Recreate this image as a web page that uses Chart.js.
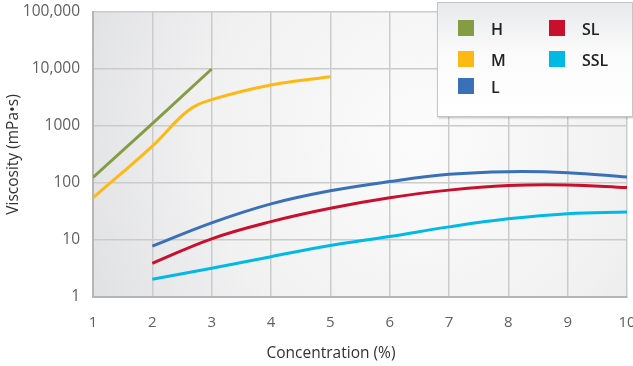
<!DOCTYPE html>
<html lang="en">
<head>
    <meta charset="UTF-8">
    <title>Viscosity vs Concentration</title>
    <script src="https://cdn.jsdelivr.net/npm/chart.js"></script>
    <style>
        body { margin: 0; background: #fff; font-family: "Open Sans", sans-serif; }
        #wrap { position: relative; width: 633px; height: 366px; }
        #xTitle { position: absolute; left: 0; width: 662px; top: 341px; text-align: center;
                  font-size: 15.5px; color: #333; }
        #legend { position: absolute; left: 437px; top: 2px; width: 194px; height: 113px;
                  border: 1px solid #c6c6c6; box-shadow: 1px 1px 2px rgba(0,0,0,0.25);
                  background: linear-gradient(#e8e9eb, #fbfbfb 45%, #ffffff); }
        .item { position: absolute; font-size: 16px; font-weight: 600; color: #222; line-height: 16px; }
        .item span { position: absolute; width: 16px; height: 16px; left: 0; top: 0; }
        .item b { position: absolute; left: 33px; top: 1px; font-weight: 600; }
    </style>
</head>
<body>
<div id="wrap">
    <canvas id="chart"></canvas>
    <div id="xTitle">Concentration (%)</div>
    <div id="legend"></div>
</div>

<script>
    // series data (concentration %, viscosity mPa·s)
    const hX = [1, 2, 3];
    const hY = [125, 1100, 10000];

    const mX = [1, 2, 2.6, 3, 4, 5];
    const mY = [55, 445, 1850, 2900, 5250, 7300];

    const lX = [2, 3, 4, 5, 6, 7, 8, 9, 10];
    const lY = [7.8, 20, 43, 73, 106, 142, 158, 152, 127];

    const slX = [2, 3, 4, 5, 6, 7, 8, 9, 10];
    const slY = [3.9, 10.5, 21, 36, 55, 75, 90, 92, 83];

    const sslX = [2, 3, 4, 5, 6, 7, 8, 9, 10];
    const sslY = [2.05, 3.2, 5.1, 8, 11.5, 17, 23.5, 29, 31];

    const seriesNames = ['H', 'M', 'L', 'SL', 'SSL'];
    const seriesColors = ['#849c43', '#fdb913', '#3a70b7', '#c8102e', '#00b9e4'];

    const yTickValues = [1, 10, 100, 1000, 10000, 100000];
    const yTickLabels = ['1', '10', '100', '1000', '10,000', '100,000'];

    const xs = [hX, mX, lX, slX, sslX];
    const ys = [hY, mY, lY, slY, sslY];

    function toPoints(x, y) {
        return x.map((v, i) => ({ x: v, y: y[i] }));
    }

    const datasets = seriesNames.map((name, i) => ({
        label: name,
        data: toPoints(xs[i], ys[i]),
        borderColor: seriesColors[i],
        backgroundColor: seriesColors[i],
        borderWidth: 3,
        pointRadius: 0,
        fill: false,
        tension: i === 0 ? 0 : 0.4
    }));

    // shaded plot background
    const plotBackground = {
        id: 'plotBackground',
        beforeDraw(chart) {
            const { ctx, chartArea: a } = chart;
            const g = ctx.createRadialGradient(420, 140, 10, 420, 140, 470);
            g.addColorStop(0, '#fbfbfb');
            g.addColorStop(0.45, '#f1f1f2');
            g.addColorStop(1, '#d4d5d8');
            ctx.save();
            ctx.fillStyle = g;
            ctx.fillRect(a.left, a.top, a.right - a.left, a.bottom - a.top);
            ctx.restore();
        }
    };

    const ctx = document.getElementById('chart').getContext('2d');
    new Chart(ctx, {
        type: 'line',
        data: { datasets },
        options: {
            responsive: true,
            maintainAspectRatio: false,
            animation: false,
            layout: { padding: { left: 0, right: 6, top: 12, bottom: 0 } },
            plugins: { legend: { display: false }, tooltip: { enabled: false } },
            scales: {
                x: {
                    type: 'linear',
                    min: 1,
                    max: 10,
                    afterFit(scale) {
                        scale.height = 69;
                        scale.paddingLeft = 0;
                        scale.paddingRight = 0;
                    },
                    ticks: { stepSize: 1, padding: 17, color: '#5f5f5f', font: { family: 'Open Sans', size: 15 } },
                    grid: { color: '#cbcbcb', lineWidth: 1.5, drawTicks: false },
                    border: { color: '#b5b5b5', width: 2 }
                },
                y: {
                    type: 'logarithmic',
                    min: 1,
                    max: 100000,
                    afterFit(scale) {
                        scale.width = 93;
                        scale.paddingTop = 0;
                        scale.paddingBottom = 0;
                    },
                    afterBuildTicks(scale) {
                        scale.ticks = yTickValues.map(v => ({ value: v }));
                    },
                    ticks: {
                        padding: 13,
                        color: '#5f5f5f',
                        font: { family: 'Open Sans', size: 15.5 },
                        callback: (v) => yTickLabels[yTickValues.indexOf(v)]
                    },
                    grid: { color: '#cbcbcb', lineWidth: 1.5, drawTicks: false },
                    border: { color: '#b5b5b5', width: 2 },
                    title: {
                        display: true,
                        text: 'Viscosity (mPa•s)',
                        color: '#333',
                        font: { family: 'Open Sans', size: 15.5 },
                        padding: { top: 4, bottom: 0 }
                    }
                }
            }
        },
        plugins: [plotBackground]
    });

    // legend box (two columns)
    const legendPos = [[20, 17], [20, 48], [20, 75], [111, 17], [111, 48]];
    const legend = document.getElementById('legend');
    seriesNames.forEach((name, i) => {
        const d = document.createElement('div');
        d.className = 'item';
        d.style.left = legendPos[i][0] + 'px';
        d.style.top = legendPos[i][1] + 'px';
        d.innerHTML = '<span style="background:' + seriesColors[i] + '"></span><b>' + name + '</b>';
        legend.appendChild(d);
    });
</script>
</body>
</html>
